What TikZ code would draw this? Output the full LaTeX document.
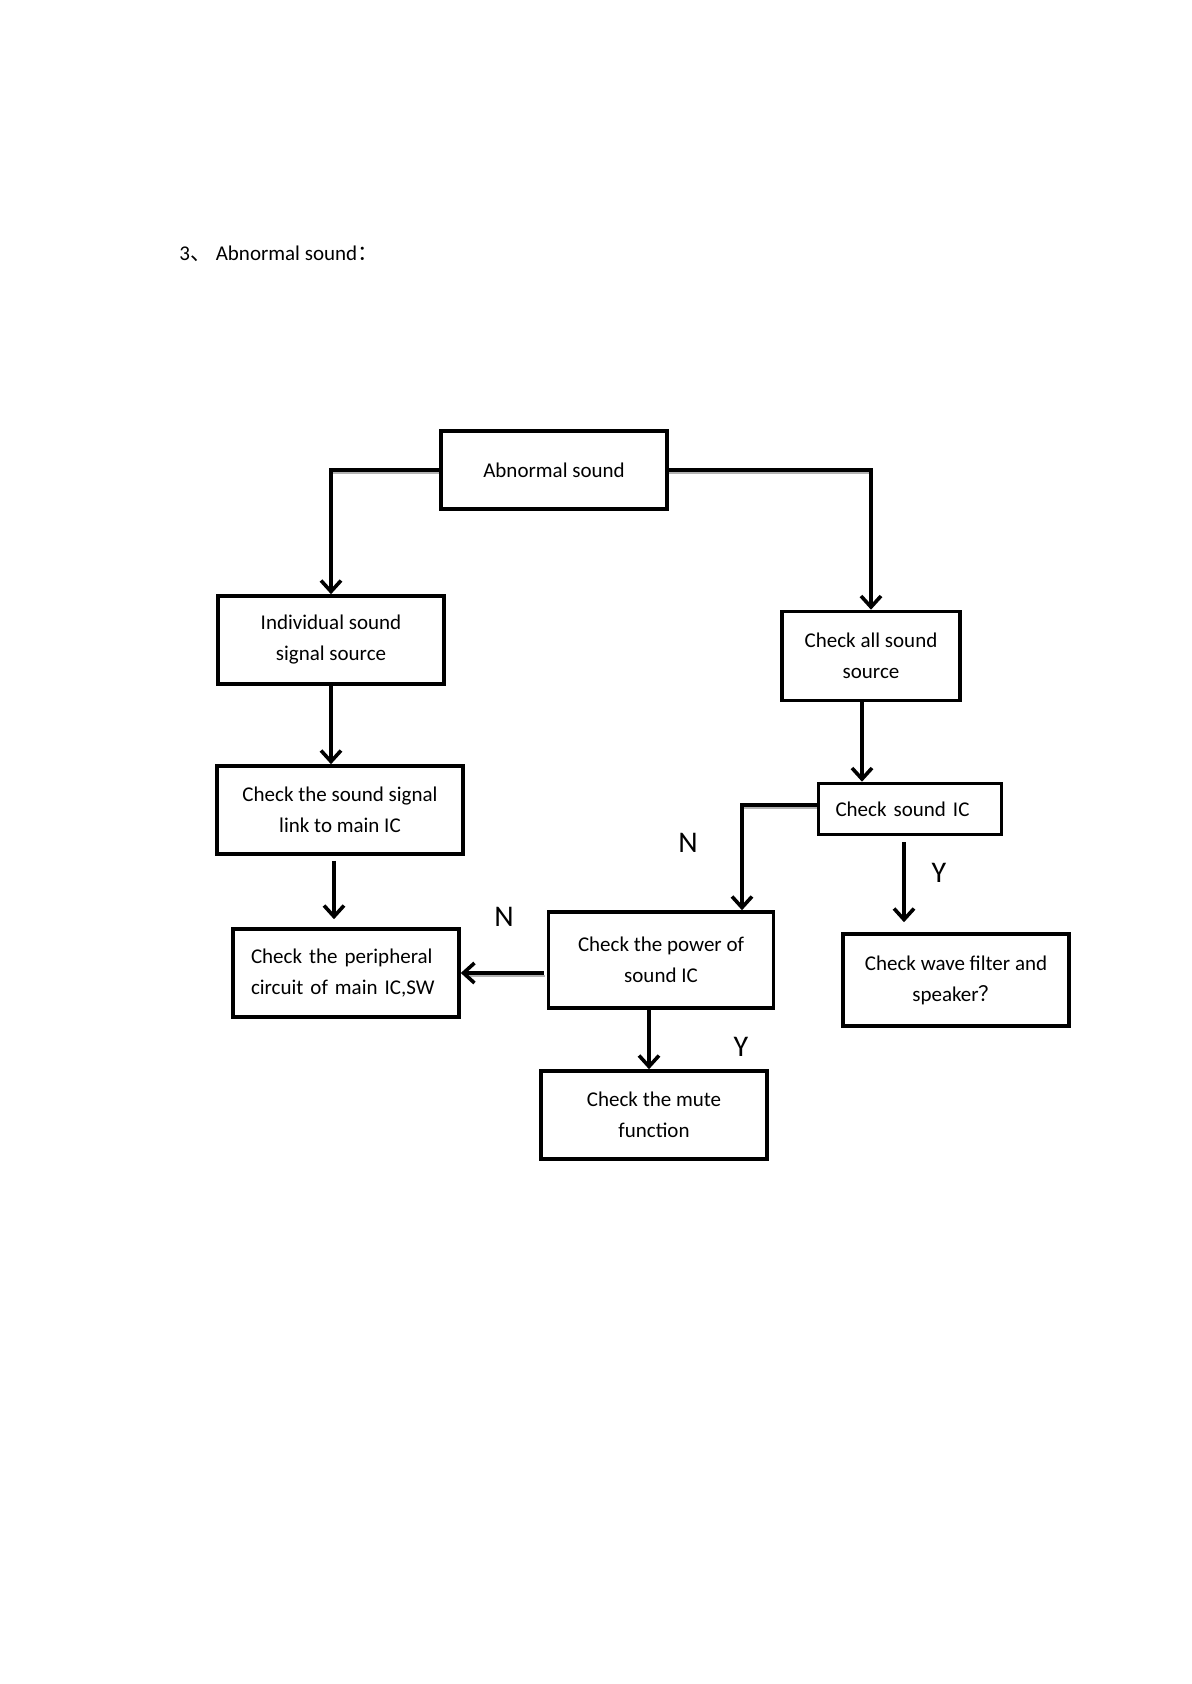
\documentclass[tikz,border=0pt]{standalone}
\usepackage{fontspec}
\setmainfont{Carlito}
\newfontfamily\cjk{Noto Sans CJK SC}
\usetikzlibrary{arrows.meta}
\tikzset{
  box/.style 2 args={draw, line width=1.8pt, minimum width=#1, minimum height=#2, inner sep=0pt, align=center, font=\fontsize{10.5}{15.5}\selectfont},
  conn/.style={line width=1.8pt, -{Straight Barb[length=5.5pt,width=10pt,line width=1.8pt]}},
  shade/.style={line width=1.2pt, gray!60},
  yn/.style={font=\fontsize{15}{18}\selectfont, inner sep=0pt}
}
\begin{document}
\begin{tikzpicture}[x=0.5pt,y=-0.5pt]
\useasboundingbox (0,0) rectangle (1191,1684);
\node[anchor=west, inner sep=0pt, font=\fontsize{10.5}{12}\selectfont] (title) at (179,254) {3{\cjk 、} Abnormal sound{\cjk ：}};

\node[box={113pt}{39pt}] (top) at (554,470) {Abnormal sound};
\node[box={113pt}{44pt}] (ind) at (331,640) {Individual sound\\signal source};
\node[box={123pt}{44pt}] (sig) at (340,810) {Check the sound signal\\link to main IC};
\node[box={113pt}{44pt}, text width=95pt, align=left, inner xsep=9pt] (per) at (346,973) {\makebox[95pt][s]{Check the peripheral}\\circuit of main IC,SW};
\node[box={89pt}{44.5pt}] (all) at (871,656) {Check all sound\\source};
\node[box={91.5pt}{25.5pt}, text width=74.5pt, align=left, inner xsep=8.5pt] (ic) at (910,809) {Check sound IC};
\node[box={113pt}{46pt}] (wave) at (956,980) {Check wave filter and\\speaker{\cjk ？}};
\node[box={112.5pt}{48pt}] (pow) at (661,960) {Check the power of\\sound IC};
\node[box={113pt}{44pt}] (mute) at (654,1115) {Check the mute\\function};

\node[yn] (n1) at (688,843) {N};
\node[yn] (y1) at (939,873) {Y};
\node[yn] (n2) at (504,917) {N};
\node[yn] (y2) at (741,1047) {Y};

% faint gray shadows under horizontal segments
\draw[shade] ([yshift=-1.6pt]top.west) -- ([yshift=-1.6pt]top.west -| ind.north);
\draw[shade] ([yshift=-1.6pt]top.east) -- ([yshift=-1.6pt]top.east -| all.north);
\draw[shade] ([yshift=0.4pt]ic.west) -- ([yshift=0.4pt,xshift=40.5pt]ic.west -| pow.north);
\draw[shade] ([yshift=-8.1pt,xshift=-1pt]pow.west) -- ([yshift=-8.1pt,xshift=3pt]pow.west -| per.east);

\draw[conn] (top.west) -| (ind.north);
\draw[conn] (top.east) -| (all.north);
\draw[conn] (ind.south) -- (ind.south |- sig.north);
\draw[conn, shorten <=2.5pt, shorten >=4pt] ([xshift=-3pt]sig.south) -- ([xshift=-3pt]sig.south |- per.north);
\draw[conn] ([xshift=-4.5pt]all.south) -- ([xshift=-4.5pt]all.south |- ic.north);
\draw[conn] ([yshift=2pt]ic.west) -| ([xshift=40.5pt]pow.north);
\draw[conn, shorten <=3pt, shorten >=5pt] ([xshift=-3pt]ic.south) -- ([xshift=-3pt]ic.south |- wave.north);
\draw[conn, shorten <=1.5pt] ([yshift=-6.5pt]pow.west) -- ([yshift=-6.5pt]pow.west -| per.east);
\draw[conn] ([xshift=-6pt]pow.south) -- ([xshift=-6pt]pow.south |- mute.north);
\end{tikzpicture}
\end{document}
